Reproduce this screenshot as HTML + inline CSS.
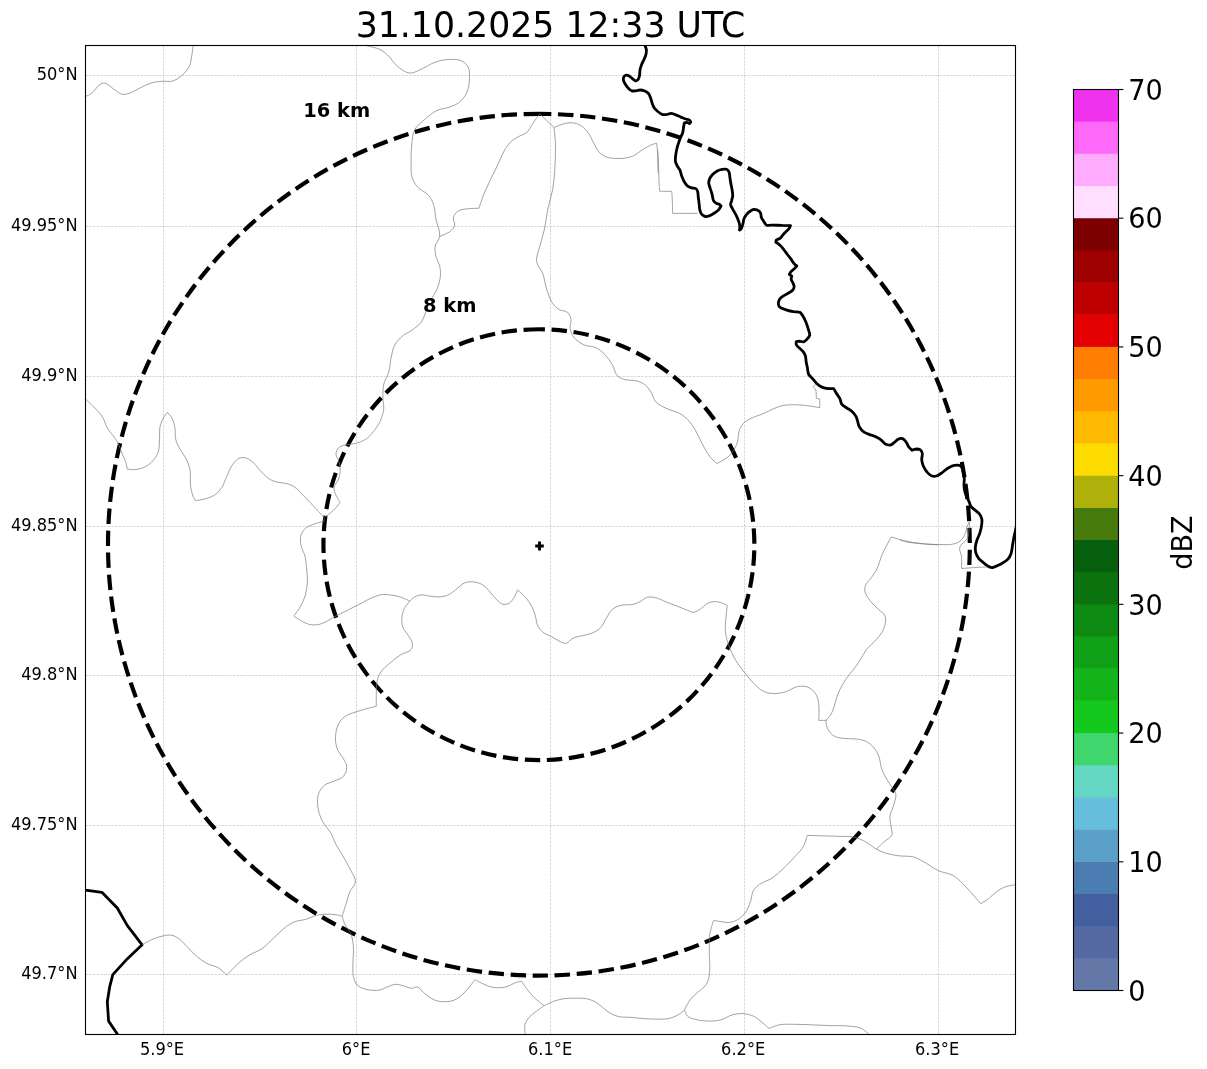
<!DOCTYPE html>
<html lang="en"><head><meta charset="utf-8"><title>31.10.2025 12:33 UTC</title>
<style>
html,body{margin:0;padding:0;background:#fff;}
body{width:1207px;height:1069px;overflow:hidden;}
svg{display:block;}
text{font-family:"DejaVu Sans","Liberation Sans",sans-serif;fill:#000;}
.tk{font-size:17.1px;}
.cb{font-size:27.78px;}
.thin{fill:none;stroke:#7a7a7a;stroke-width:0.7;stroke-linejoin:round;}
.thick{fill:none;stroke:#000;stroke-width:2.8;stroke-linejoin:round;stroke-linecap:butt;}
.grid{stroke:#b0b0b0;stroke-width:0.7;stroke-dasharray:2.57 1.11;stroke-opacity:0.7;}
.ring{fill:none;stroke:#000;stroke-width:4.17;stroke-dasharray:15.4167 6.6667;}
</style></head><body>
<svg width="1207" height="1069" viewBox="0 0 1207 1069">
<rect x="0" y="0" width="1207" height="1069" fill="#fff"/>
<defs><clipPath id="ax"><rect x="85.5" y="45.5" width="930.0" height="989.0"/></clipPath></defs>

<g class="grid">
<line x1="163.5" y1="45.5" x2="163.5" y2="1034.5"/>
<line x1="356.5" y1="45.5" x2="356.5" y2="1034.5"/>
<line x1="550.5" y1="45.5" x2="550.5" y2="1034.5"/>
<line x1="744.5" y1="45.5" x2="744.5" y2="1034.5"/>
<line x1="938.5" y1="45.5" x2="938.5" y2="1034.5"/>
<line x1="85.5" y1="75.5" x2="1015.5" y2="75.5"/>
<line x1="85.5" y1="226.5" x2="1015.5" y2="226.5"/>
<line x1="85.5" y1="376.5" x2="1015.5" y2="376.5"/>
<line x1="85.5" y1="526.5" x2="1015.5" y2="526.5"/>
<line x1="85.5" y1="675.5" x2="1015.5" y2="675.5"/>
<line x1="85.5" y1="825.5" x2="1015.5" y2="825.5"/>
<line x1="85.5" y1="974.5" x2="1015.5" y2="974.5"/>
</g>
<g clip-path="url(#ax)">
<path class="ring" d="M538.9 113.80000000000007 A430.9 430.9 0 1 0 538.9 975.6 A430.9 430.9 0 1 0 538.9 113.80000000000007"/>
<path class="ring" d="M538.9 329.25000000000006 A215.45 215.45 0 1 0 538.9 760.1500000000001 A215.45 215.45 0 1 0 538.9 329.25000000000006"/>
<path class="thick" d="M644.5 43.7 C644.5 43.7 644.9 45.0 645.0 45.6 C645.4 46.7 646.1 48.2 646.3 49.3 C646.5 50.8 646.3 52.8 646.0 54.3 C645.7 55.9 644.8 57.8 644.1 59.3 C643.5 60.8 642.3 62.7 641.7 64.2 C641.0 65.9 640.4 68.1 640.0 69.8 C639.7 71.5 639.9 73.8 639.5 75.5 C639.2 76.8 638.9 78.8 637.9 79.8 C637.4 80.4 635.5 81.0 635.5 81.0 C635.5 81.0 633.3 79.3 632.3 78.6 C631.3 77.7 630.0 76.4 628.9 75.8 C628.1 75.4 627.0 74.9 626.1 75.1 C625.3 75.2 624.3 76.0 623.9 76.7 C623.4 77.5 623.3 78.9 623.4 79.8 C623.5 81.0 624.3 82.5 624.9 83.5 C625.7 84.9 626.9 86.7 628.0 87.9 C629.0 88.9 630.4 90.3 631.7 90.8 C633.0 91.2 634.8 90.9 636.1 90.8 C637.4 90.6 639.1 90.0 640.4 90.0 C641.8 90.0 643.5 90.5 644.8 91.0 C646.0 91.5 647.6 92.5 648.5 93.5 C649.6 94.7 650.2 96.9 650.8 98.5 C651.3 99.9 651.7 102.0 652.2 103.4 C652.7 104.8 653.3 106.6 654.1 107.8 C655.0 109.1 656.6 110.5 657.8 111.5 C659.1 112.5 660.7 113.9 662.2 114.4 C663.6 114.8 665.7 114.6 667.2 114.4 C668.3 114.2 669.7 113.4 670.9 113.4 C672.3 113.4 674.0 114.2 675.2 114.6 C677.0 115.3 679.1 116.4 680.9 117.1 C682.3 117.7 684.3 118.4 685.8 119.0 C686.9 119.4 688.6 119.5 689.5 120.2 C690.1 120.6 690.8 122.1 690.8 122.1 C690.8 122.1 689.5 123.6 689.5 123.6 C689.5 123.6 687.4 122.4 686.4 122.3 C685.8 122.3 684.3 123.1 684.3 123.1 C684.3 123.1 683.8 125.9 683.6 127.1 C683.3 128.7 683.2 131.0 682.7 132.7 C682.2 134.4 680.9 136.5 680.2 138.3 C679.4 140.5 678.4 143.5 677.7 145.7 C677.2 147.7 676.4 150.5 676.1 152.6 C675.7 155.3 675.0 159.1 675.5 161.8 C675.7 163.2 676.7 164.9 677.4 166.2 C678.0 167.4 679.3 168.7 679.9 169.9 C680.7 171.7 681.0 174.3 681.7 176.1 C682.4 177.8 683.3 180.1 684.2 181.7 C685.0 183.0 686.1 184.8 687.3 185.8 C688.4 186.7 690.3 187.5 691.7 187.9 C692.9 188.3 694.7 187.9 695.8 188.6 C696.5 189.0 697.2 190.2 697.5 191.0 C698.2 192.8 698.0 195.4 698.3 197.3 C698.5 199.1 698.9 201.6 699.1 203.5 C699.4 205.3 699.3 207.9 699.8 209.7 C700.1 211.1 700.7 213.0 701.6 214.1 C702.5 215.1 704.0 216.3 705.4 216.5 C706.7 216.8 708.5 216.1 709.7 215.7 C711.3 215.1 713.2 213.8 714.7 212.8 C716.1 211.9 717.9 210.7 719.0 209.4 C719.8 208.5 721.1 206.0 721.1 206.0 C721.1 206.0 720.2 204.8 719.6 204.5 C718.6 203.9 716.9 203.9 715.9 203.2 C715.0 202.6 713.9 201.4 713.4 200.4 C712.7 198.8 712.6 196.4 712.2 194.8 C711.7 192.9 710.9 190.4 710.3 188.6 C709.8 186.9 708.8 184.7 708.7 183.0 C708.7 181.6 709.2 179.8 709.7 178.6 C710.4 177.1 711.7 175.4 712.8 174.2 C714.0 173.1 715.7 171.7 717.2 170.9 C718.5 170.2 720.6 169.5 722.1 169.3 C723.4 169.1 725.3 168.8 726.5 169.3 C727.5 169.7 728.5 170.8 729.0 171.8 C729.7 173.3 729.6 175.7 729.9 177.4 C730.1 179.2 730.5 181.7 730.9 183.6 C731.2 185.5 731.8 187.9 732.1 189.8 C732.4 191.7 732.8 194.1 732.7 196.0 C732.6 197.6 731.8 199.5 731.5 201.0 C731.2 202.1 730.5 203.6 730.6 204.7 C730.8 206.2 732.0 207.8 732.7 209.1 C733.6 210.8 735.0 213.0 735.8 214.7 C736.6 216.3 737.7 218.5 738.3 220.3 C738.9 221.9 739.6 224.1 739.8 225.9 C739.9 227.2 739.5 230.2 739.5 230.2 C739.5 230.2 741.0 229.0 741.4 228.4 C742.2 227.0 742.6 224.9 743.0 223.4 C743.4 222.1 743.4 220.3 743.9 219.0 C744.4 217.6 745.5 215.9 746.4 214.7 C747.5 213.3 749.2 211.6 750.8 210.7 C751.8 210.1 753.3 209.4 754.5 209.4 C755.9 209.5 757.7 210.1 758.8 210.9 C759.6 211.5 760.3 212.6 760.7 213.4 C761.1 214.5 760.9 216.1 761.3 217.2 C761.8 218.6 763.0 220.3 763.8 221.5 C764.5 222.6 765.2 224.3 766.3 224.9 C768.1 225.8 771.1 225.1 773.1 225.1 C775.7 225.2 779.2 225.3 781.8 225.4 C784.5 225.4 790.5 225.6 790.5 225.6 C790.5 225.6 789.4 228.1 788.7 229.0 C787.4 230.7 785.1 232.4 783.7 234.0 C782.5 235.2 781.3 237.3 780.0 238.3 C779.0 239.1 777.0 239.2 776.2 240.2 C775.9 240.7 775.9 242.3 775.9 242.3 C775.9 242.3 778.9 244.1 780.0 245.2 C781.3 246.3 782.6 248.2 783.7 249.5 C784.9 251.0 786.3 253.0 787.4 254.5 C788.6 256.0 790.1 257.9 791.2 259.4 C792.1 260.7 793.2 262.6 794.3 263.8 C794.9 264.5 796.8 265.9 796.8 265.9 C796.8 265.9 795.5 267.5 794.9 268.2 C793.9 269.2 792.1 270.2 791.2 271.3 C790.5 272.1 789.3 274.4 789.3 274.4 C789.3 274.4 791.8 276.2 791.8 276.2 C791.8 276.2 791.0 278.4 791.2 279.4 C791.3 280.6 792.6 281.8 793.0 283.0 C793.5 284.1 794.2 285.6 794.1 286.8 C794.1 287.8 793.5 289.1 792.9 289.9 C791.9 291.2 789.9 292.2 788.6 293.0 C786.9 294.0 784.5 295.0 783.0 296.1 C781.8 296.9 780.3 298.0 779.6 299.2 C778.8 300.6 778.2 302.7 778.4 304.2 C778.5 305.2 779.1 306.6 779.9 307.3 C781.3 308.7 784.2 309.2 786.1 309.8 C788.3 310.5 791.3 311.3 793.5 311.7 C795.4 312.0 798.1 311.4 799.8 312.3 C801.0 313.0 802.1 314.8 802.9 316.0 C804.0 317.8 805.2 320.3 806.0 322.2 C806.9 324.4 807.8 327.4 808.5 329.7 C808.9 331.4 810.0 333.6 809.7 335.3 C809.4 336.9 807.7 338.5 806.6 339.6 C805.8 340.5 804.6 341.6 803.5 341.9 C802.2 342.2 800.5 341.2 799.1 341.1 C798.3 341.1 796.3 341.5 796.3 341.5 C796.3 341.5 795.9 343.8 796.3 344.6 C796.8 346.1 798.7 347.3 799.8 348.4 C800.8 349.5 802.6 350.8 803.5 352.1 C804.2 353.1 805.0 354.6 805.4 355.8 C805.9 357.6 805.9 360.2 806.2 362.0 C806.5 363.9 807.1 366.4 807.5 368.3 C807.8 370.1 807.8 372.8 808.7 374.5 C809.4 375.8 811.2 377.1 812.2 378.2 C813.5 379.7 815.1 381.8 816.5 383.2 C817.6 384.2 819.0 385.6 820.3 386.3 C821.6 387.1 823.5 387.8 825.0 388.1 C827.5 388.6 833.7 388.7 833.7 388.7 C833.7 388.7 835.4 391.8 836.2 393.1 C837.2 394.8 839.0 396.8 839.9 398.7 C840.7 400.2 840.7 402.8 841.8 404.2 C842.9 405.8 845.2 406.9 846.7 408.0 C848.4 409.2 850.9 410.3 852.3 411.7 C853.7 413.0 855.2 415.0 856.1 416.7 C856.9 418.3 857.4 420.6 857.9 422.3 C858.3 423.6 858.5 425.5 859.2 426.6 C860.3 428.6 862.3 430.9 864.1 432.2 C866.0 433.5 868.9 434.2 871.0 435.0 C872.9 435.7 875.4 436.5 877.2 437.5 C878.6 438.2 880.4 439.3 881.6 440.3 C882.8 441.3 883.9 443.3 885.3 444.1 C886.8 444.8 889.2 445.3 890.9 444.9 C892.2 444.6 893.5 443.0 894.6 442.2 C895.8 441.3 897.0 439.6 898.4 439.1 C899.6 438.6 901.5 438.3 902.7 438.7 C903.9 439.1 905.0 440.6 905.8 441.6 C907.0 443.1 907.8 445.6 908.9 447.2 C909.7 448.2 912.0 450.3 912.0 450.3 C912.0 450.3 915.0 449.1 916.4 449.0 C917.5 449.0 919.2 449.0 920.1 449.6 C921.1 450.3 921.9 451.7 922.2 452.8 C922.8 454.7 921.6 457.5 921.7 459.6 C921.9 461.5 922.5 464.0 923.2 465.8 C924.1 467.8 925.6 470.4 927.0 472.0 C928.1 473.4 929.7 475.1 931.3 475.8 C932.7 476.3 934.8 476.4 936.3 476.0 C938.0 475.6 939.8 474.2 941.3 473.3 C943.0 472.1 945.1 470.1 946.9 468.9 C948.5 467.9 950.6 466.4 952.5 465.8 C953.9 465.4 955.9 465.1 957.4 465.2 C958.6 465.3 960.3 465.6 961.2 466.4 C962.2 467.4 962.6 469.4 963.0 470.8 C963.7 473.0 964.1 476.0 964.3 478.3 C964.4 480.5 963.9 483.5 964.0 485.7 C964.1 487.6 964.4 490.1 964.9 491.9 C965.4 493.9 966.6 496.3 967.4 498.2 C968.2 500.0 969.5 502.4 970.0 504.4 C970.0 504.4 970.0 504.4 970.0 504.5 C970.2 505.2 970.6 506.0 971.1 506.6 C972.1 508.0 974.1 509.3 975.4 510.4 C976.7 511.5 978.7 512.8 979.7 514.2 C980.7 515.6 981.6 517.8 981.9 519.5 C982.2 521.8 981.7 524.8 981.3 527.1 C981.0 529.1 980.3 531.6 979.7 533.5 C979.0 535.5 977.7 538.0 977.0 540.0 C976.4 541.9 975.6 544.5 975.4 546.5 C975.2 548.4 975.4 551.1 975.9 552.9 C976.4 554.7 977.5 556.9 978.6 558.3 C979.9 560.0 982.3 561.8 984.0 563.2 C985.6 564.4 987.6 566.2 989.4 566.9 C990.3 567.3 991.6 567.6 992.6 567.5 C994.0 567.3 995.7 566.4 996.9 565.9 C998.6 565.1 1000.8 564.1 1002.3 563.2 C1004.0 562.2 1006.4 560.8 1007.7 559.4 C1009.0 558.0 1010.3 555.8 1010.9 554.0 C1011.9 551.6 1012.1 548.0 1012.5 545.4 C1013.1 542.5 1013.6 538.6 1014.2 535.7 C1014.6 533.7 1015.3 531.2 1015.8 529.2 C1016.1 527.6 1016.9 523.9 1016.9 523.9"/>
<path class="thick" d="M82.5 889.6 L85.5 890.1 L101.9 892.3 L117.3 908.0 L127.2 925.4 L142.1 944.8 L127.2 958.9 L112.8 974.6 L109.8 986.3 L107.3 1001.7 L108.6 1021.1 L117.3 1034.0 L119.8 1038.5"/>
<path class="thin" d="M85.2 96.5 C85.2 96.5 89.4 94.9 91.2 93.6 C92.7 92.5 93.8 91.0 95.1 89.6 C96.5 88.1 97.5 86.3 99.1 85.0 C100.3 84.1 101.6 83.2 103.1 83.0 C104.2 82.9 105.4 83.2 106.4 83.7 C108.1 84.4 109.5 85.9 111.0 87.0 C112.8 88.3 114.5 89.7 116.3 91.0 C117.8 92.0 119.2 93.3 121.0 94.0 C122.2 94.4 123.6 94.5 124.9 94.4 C126.8 94.3 128.5 93.6 130.2 93.0 C132.3 92.2 134.1 91.0 136.0 90.0 C141.3 87.5 146.5 84.4 152.1 82.8 C155.3 81.8 158.7 81.5 162.0 81.3 C165.5 81.0 169.1 82.0 172.5 81.0 C176.0 80.0 179.2 77.9 181.9 75.5 C184.9 72.9 187.6 69.7 189.4 66.1 C191.0 62.6 191.2 58.7 191.9 54.9 C192.4 51.8 193.1 45.5 193.1 45.5"/>
<path class="thin" d="M362.6 45.0 C362.6 45.0 374.6 46.9 380.0 49.5 C382.8 50.8 385.2 52.8 387.5 54.9 C391.2 58.3 393.5 63.0 397.4 66.1 C401.1 69.1 405.1 72.7 409.8 73.1 C414.2 73.4 418.2 70.3 422.3 68.6 C426.5 66.8 430.3 63.9 434.7 62.4 C439.5 60.7 444.5 59.5 449.6 59.4 C453.8 59.3 458.3 59.3 462.0 61.1 C464.7 62.4 467.0 64.7 468.2 67.3 C469.7 70.3 469.6 73.9 469.5 77.3 C469.4 82.3 469.0 87.6 467.0 92.2 C465.4 96.0 462.7 99.5 459.5 102.1 C456.7 104.5 453.1 105.8 449.6 107.1 C445.6 108.6 441.0 108.5 437.2 110.3 C432.5 112.6 428.6 116.2 424.7 119.5 C421.2 122.6 417.0 125.4 414.8 129.5 C412.4 134.0 412.4 139.4 411.8 144.4 C411.0 151.0 411.0 157.7 411.1 164.3 C411.1 168.4 410.7 172.7 411.8 176.7 C412.9 180.3 414.8 183.8 417.3 186.7 C420.4 190.3 425.4 191.8 428.5 195.4 C430.7 197.9 432.3 200.9 433.4 204.1 C435.1 208.8 435.0 214.0 435.9 219.0 C437.0 224.8 440.3 230.5 439.7 236.4 C439.3 240.0 435.8 242.7 435.2 246.3 C434.6 249.6 435.2 253.0 435.9 256.3 C436.7 259.7 438.9 262.7 439.7 266.2 C440.4 269.4 440.7 272.8 440.4 276.1 C440.0 280.4 438.8 284.6 437.2 288.6 C435.6 292.5 431.0 299.8 431.0 299.8"/>
<path class="thin" d="M427.7 305.0 C427.7 305.0 426.7 309.2 426.0 311.2 C424.6 315.1 423.4 319.1 421.0 322.4 C418.7 325.5 415.4 327.6 412.3 329.9 C409.2 332.2 405.3 333.5 402.4 336.1 C399.5 338.6 396.7 341.4 394.9 344.8 C392.8 348.6 392.2 353.0 391.2 357.2 C390.1 362.1 390.1 367.3 388.7 372.1 C387.5 376.4 384.7 380.2 383.7 384.5 C382.7 389.4 382.9 394.5 383.0 399.5 C383.0 402.8 384.1 406.1 383.7 409.4 C383.3 413.7 380.0 421.8 380.0 421.8"/>
<path class="thin" d="M439.7 236.4 C439.7 236.4 447.7 233.6 450.8 230.9 C452.5 229.4 454.1 227.4 454.6 225.2 C455.1 222.7 452.7 220.2 453.3 217.7 C454.0 215.0 456.0 212.6 458.3 211.0 C460.4 209.6 463.2 209.4 465.8 209.0 C470.1 208.3 478.9 208.3 478.9 208.3 C478.9 208.3 482.3 197.9 484.4 192.9 C488.1 184.0 492.5 175.4 496.8 166.8 C500.8 158.8 503.4 149.9 509.3 143.2 C511.6 140.5 514.9 138.8 518.0 136.9 C520.7 135.2 524.2 134.6 526.7 132.5 C529.4 130.0 530.7 126.3 532.9 123.3 C535.1 120.1 539.8 113.8 539.8 113.8 C539.8 113.8 554.0 127.5 554.0 127.5 C554.0 127.5 563.7 123.1 568.9 122.8 C572.3 122.5 575.8 123.1 578.9 124.5 C582.3 126.1 585.1 129.0 587.6 132.0 C590.3 135.3 591.6 139.5 593.8 143.2 C595.6 146.3 596.8 149.9 599.4 152.5 C601.3 154.5 603.7 155.9 606.2 156.9 C609.0 158.0 612.0 158.2 614.9 158.4 C618.2 158.6 621.6 158.7 624.9 158.2 C627.9 157.7 630.8 156.9 633.6 155.7 C636.3 154.4 638.5 152.3 641.0 150.7 C643.9 148.9 646.7 146.9 649.8 145.5 C651.9 144.5 656.6 143.2 656.6 143.2 C656.6 143.2 657.3 149.0 657.5 151.9 C657.7 156.1 657.7 160.2 657.8 164.4 C657.9 167.2 658.2 173.0 658.2 173.0"/>
<path class="thin" d="M657.7 150.0 C657.7 150.0 658.3 158.3 658.5 162.4 C658.7 168.7 658.7 174.9 659.0 181.1 C659.1 184.5 659.7 191.3 659.7 191.3 C659.7 191.3 671.8 191.3 671.8 191.3 C671.8 191.3 672.2 198.6 672.4 202.2 C672.5 206.0 672.6 213.4 672.6 213.4 C672.6 213.4 697.9 213.4 697.9 213.4"/>
<path class="thin" d="M554.0 127.5 C554.0 127.5 555.3 138.7 555.5 144.4 C555.7 152.7 555.3 161.0 554.8 169.3 C554.3 175.9 553.9 182.6 552.8 189.1 C551.6 195.9 549.2 202.3 547.8 209.0 C546.4 215.6 546.0 222.4 544.5 228.9 C543.1 235.6 540.7 242.1 539.1 248.8 C538.1 252.9 536.0 257.0 536.6 261.2 C537.2 265.8 541.2 269.3 542.8 273.7 C544.6 278.5 544.9 283.7 546.5 288.6 C548.2 293.7 549.7 299.2 552.8 303.6 C554.4 306.0 556.5 308.0 559.0 309.5 C561.6 311.1 565.3 310.5 567.7 312.5 C569.4 314.0 570.4 316.4 570.9 318.7 C571.6 321.9 569.6 325.3 570.2 328.6 C570.7 331.7 571.9 334.8 573.9 337.3 C576.4 340.6 580.1 343.0 583.8 344.8 C587.7 346.6 592.4 345.9 596.3 347.8 C599.6 349.4 602.4 352.0 605.0 354.7 C607.8 357.7 610.3 361.1 612.4 364.7 C614.5 368.2 614.6 372.9 617.4 375.8 C619.3 377.8 622.2 378.8 624.8 379.6 C628.4 380.6 632.4 379.9 636.0 380.8 C639.1 381.6 642.2 382.7 644.7 384.5 C647.3 386.5 649.2 389.3 650.9 392.0 C653.0 395.1 653.4 399.2 655.9 401.9 C658.5 404.8 662.4 406.4 665.9 408.2 C670.4 410.4 675.6 411.2 680.0 413.6 C682.7 415.2 685.3 417.1 687.5 419.3 C690.4 422.3 692.7 425.8 694.9 429.3 C697.8 434.0 699.7 439.3 702.4 444.2 C704.7 448.4 706.9 452.8 709.8 456.6 C711.8 459.2 716.8 463.6 716.8 463.6 C716.8 463.6 726.1 459.0 729.7 455.4 C733.1 451.9 735.5 447.5 737.2 443.0 C738.8 438.6 737.8 433.5 739.7 429.3 C740.9 426.5 742.7 423.8 745.1 421.8 C750.6 417.4 758.0 416.0 764.5 413.1 C770.3 410.6 775.8 407.1 781.9 405.7 C787.6 404.4 793.5 404.7 799.3 404.9 C806.2 405.2 819.7 407.7 819.7 407.7 C819.7 407.7 819.7 399.0 819.7 399.0 C819.7 399.0 816.2 398.2 816.2 398.2 C816.2 398.2 816.7 392.1 815.5 389.5 C815.0 388.5 813.0 387.0 813.0 387.0 C813.0 387.0 816.2 383.6 816.2 383.6"/>
<path class="thin" d="M85.5 399.0 C85.5 399.0 91.0 404.1 93.7 406.9 C96.7 410.1 100.0 413.1 102.4 416.9 C104.6 420.3 105.3 424.5 107.3 428.0 C110.2 432.9 114.6 436.8 117.3 441.7 C119.4 445.6 120.6 450.0 122.3 454.1 C123.5 457.1 125.1 459.8 126.0 462.8 C126.6 464.9 127.2 469.1 127.2 469.1 C127.2 469.1 132.2 469.8 134.7 469.6 C138.1 469.2 141.6 468.6 144.6 467.1 C147.9 465.5 150.9 463.1 153.3 460.4 C155.5 457.8 157.3 454.8 158.3 451.7 C159.6 447.7 159.2 443.4 159.5 439.2 C159.8 435.1 159.2 430.9 160.0 426.8 C160.6 423.8 161.8 420.8 163.3 418.1 C164.4 416.0 167.5 412.4 167.5 412.4 C167.5 412.4 170.9 416.0 172.0 418.1 C173.6 421.2 174.3 424.6 174.9 428.0 C175.6 431.7 174.8 435.6 175.7 439.2 C176.4 442.3 178.0 445.1 179.4 447.9 C181.6 452.2 184.9 456.0 186.9 460.4 C188.3 463.5 189.5 466.9 190.1 470.3 C191.0 475.6 189.9 481.1 190.6 486.5 C191.1 489.8 191.8 493.2 193.1 496.4 C193.7 497.9 195.6 500.6 195.6 500.6 C195.6 500.6 203.2 499.6 206.8 498.4 C209.8 497.4 212.9 496.3 215.5 494.4 C217.9 492.6 220.0 490.2 221.7 487.7 C223.9 484.3 224.9 480.2 226.7 476.5 C228.6 472.3 230.1 467.8 232.9 464.1 C234.6 461.8 236.5 459.5 239.1 458.4 C241.0 457.5 243.3 457.4 245.3 457.9 C248.1 458.5 250.5 460.3 252.8 462.1 C256.2 464.9 258.3 468.9 261.5 472.0 C264.2 474.7 266.9 477.6 270.2 479.5 C272.4 480.8 275.0 481.6 277.6 482.2 C280.5 482.9 283.5 482.7 286.3 483.5 C288.9 484.2 291.5 485.0 293.8 486.5 C297.6 488.9 300.5 492.7 303.7 495.9 C308.0 500.1 312.1 504.5 316.1 508.8 C318.8 511.7 324.1 517.5 324.1 517.5 C324.1 517.5 329.8 513.6 332.3 511.3 C335.2 508.7 340.2 502.6 340.2 502.6 C340.2 502.6 337.1 497.8 336.0 495.2 C335.1 492.8 333.8 490.3 334.0 487.7 C334.4 484.5 337.5 482.1 338.5 479.0 C339.6 475.8 340.3 472.4 340.2 469.1 C340.2 466.1 339.4 463.2 338.5 460.4 C337.9 458.2 336.0 456.4 336.0 454.1 C336.0 451.9 337.0 449.6 338.5 447.9 C339.8 446.6 341.7 446.0 343.5 445.4 C345.9 444.7 348.5 444.6 350.9 444.2 C352.8 443.9 354.6 443.7 356.4 443.2 C359.7 442.2 363.0 441.1 365.9 439.2 C368.8 437.3 371.1 434.5 373.3 431.8 C375.9 428.7 380.0 421.8 380.0 421.8"/>
<path class="thin" d="M324.1 518.3 C324.1 518.3 324.1 521.3 324.1 521.3 C324.1 521.3 317.0 522.9 313.7 524.2 C310.6 525.4 307.3 526.5 305.0 528.7 C302.9 530.7 301.4 533.4 300.7 536.2 C300.0 539.4 300.6 542.9 301.2 546.1 C301.9 549.6 304.1 552.6 305.0 556.1 C306.1 560.6 306.2 565.3 306.7 570.0 C307.0 573.3 307.6 576.6 307.4 579.9 C307.2 585.4 306.5 590.9 305.0 596.1 C303.8 600.0 302.0 603.7 300.0 607.3 C298.2 610.4 293.8 616.0 293.8 616.0 C293.8 616.0 303.2 622.8 308.7 624.2 C312.3 625.1 316.2 625.1 319.9 624.2 C325.7 622.8 330.6 618.7 336.0 616.0 C342.6 612.7 349.2 609.3 355.9 606.0 C363.9 602.2 371.4 596.8 380.0 594.9 C383.2 594.1 386.6 594.5 389.9 594.9 C393.3 595.2 396.7 595.9 399.9 596.9 C403.3 597.9 409.8 601.1 409.8 601.1 C409.8 601.1 412.9 597.9 414.8 596.9 C416.7 595.8 418.8 595.0 421.0 594.9 C423.9 594.6 426.8 595.8 429.7 596.1 C433.0 596.5 436.3 597.1 439.7 596.9 C442.6 596.6 445.6 596.1 448.4 594.9 C451.6 593.4 454.2 590.8 457.1 588.6 C459.6 586.8 461.6 584.1 464.5 582.9 C467.2 581.8 470.3 581.7 473.2 581.9 C476.2 582.2 479.3 583.0 481.9 584.4 C484.8 586.0 487.0 588.7 489.4 591.1 C492.0 593.9 494.0 597.2 496.8 599.8 C498.7 601.6 500.5 603.8 503.0 604.3 C505.1 604.7 507.4 604.1 509.3 603.1 C511.4 601.8 512.9 599.5 514.2 597.3 C515.7 595.0 517.5 589.9 517.5 589.9 C517.5 589.9 523.0 594.6 525.4 597.3 C527.8 600.0 530.0 602.9 531.6 606.0 C533.3 609.2 534.3 612.6 535.4 616.0 C536.4 619.3 536.3 622.9 537.8 625.9 C539.0 628.3 540.8 630.5 542.8 632.1 C545.3 634.2 548.6 635.1 551.5 636.6 C554.4 638.2 557.1 640.3 560.2 641.6 C562.0 642.4 564.0 643.7 565.9 643.3 C568.7 642.9 570.1 639.6 572.6 638.4 C575.3 637.0 578.4 636.6 581.3 635.9 C584.6 635.0 588.1 634.7 591.3 633.4 C594.4 632.1 597.6 630.7 600.0 628.4 C602.8 625.7 604.1 621.7 606.2 618.5 C608.2 615.4 609.6 611.7 612.4 609.3 C614.8 607.2 618.0 606.1 621.1 605.3 C625.1 604.3 629.5 605.3 633.5 604.3 C636.2 603.6 638.6 602.3 641.0 601.1 C643.1 600.0 644.9 597.9 647.2 597.3 C650.0 596.6 653.1 597.2 655.9 597.8 C659.4 598.6 662.5 600.5 665.9 601.8 C670.6 603.7 675.3 605.4 680.0 607.3 C682.5 608.3 684.9 609.4 687.5 610.3 C689.5 611.0 691.5 612.4 693.7 612.3 C696.4 612.0 698.8 610.0 701.1 608.5 C703.4 607.1 705.0 604.8 707.3 603.6 C709.6 602.4 712.2 601.7 714.8 601.6 C717.3 601.5 719.8 602.3 722.3 603.1 C724.0 603.6 727.2 605.3 727.2 605.3 C727.2 605.3 726.3 613.2 726.0 617.2 C725.6 622.2 725.0 627.2 725.5 632.1 C725.9 636.4 727.1 640.5 728.5 644.6 C730.4 650.2 732.9 655.6 735.9 660.7 C738.6 665.2 741.9 669.1 745.1 673.2 C748.2 677.0 751.0 681.0 754.6 684.3 C757.6 687.2 760.7 690.2 764.5 691.8 C768.0 693.3 771.9 693.6 775.7 693.5 C779.5 693.5 783.3 692.5 786.9 691.3 C790.3 690.2 793.3 687.6 796.8 686.8 C800.1 686.1 803.6 685.9 806.8 686.8 C809.6 687.7 812.3 689.6 814.2 691.8 C816.1 693.9 817.3 696.6 818.0 699.3 C819.7 706.1 818.7 720.4 818.7 720.4 C818.7 720.4 826.2 720.4 826.2 720.4"/>
<path class="thin" d="M409.8 601.1 C409.8 601.1 405.7 605.8 404.4 608.5 C403.0 611.2 402.1 614.2 401.9 617.2 C401.6 620.5 401.8 624.0 402.9 627.2 C404.0 630.4 406.9 632.9 408.6 635.9 C410.0 638.3 411.9 640.6 412.3 643.3 C412.6 645.4 412.4 647.9 411.1 649.5 C408.8 652.5 404.3 652.6 401.1 654.5 C397.6 656.7 394.3 659.3 391.2 662.0 C387.2 665.4 382.8 668.7 380.0 673.2 C378.4 675.8 377.6 678.9 377.0 681.9 C376.2 685.9 376.4 690.1 376.3 694.3 C376.2 698.3 376.3 706.2 376.3 706.2 C376.3 706.2 365.9 708.8 360.9 710.4 C355.4 712.2 349.4 713.3 344.7 716.7 C342.1 718.5 340.0 721.2 338.5 724.1 C336.6 727.9 335.7 732.3 335.5 736.5 C335.3 740.7 335.8 745.0 337.3 749.0 C338.6 752.6 341.7 755.5 343.5 758.9 C344.7 761.3 346.6 763.7 346.7 766.4 C346.9 769.9 345.8 773.7 343.5 776.3 C341.1 779.1 336.9 779.7 333.5 781.3 C330.7 782.6 327.3 783.0 324.8 785.0 C322.1 787.2 319.8 790.3 318.6 793.7 C317.0 798.4 317.4 803.7 318.1 808.6 C318.8 813.0 320.4 817.2 322.4 821.1 C324.7 825.6 328.6 829.2 331.1 833.6 C333.0 837.1 334.2 841.0 336.0 844.6 C338.3 848.9 341.1 852.8 343.5 857.0 C346.1 861.5 348.7 866.0 350.9 870.7 C352.7 874.3 355.7 877.9 355.4 881.9 C355.2 885.7 351.2 888.3 349.7 891.8 C348.0 895.8 347.2 900.1 346.0 904.3 C344.7 908.2 342.2 916.2 342.2 916.2"/>
<path class="thin" d="M987.2 566.9 C987.2 566.9 979.3 567.2 975.4 567.5 C970.8 567.8 961.6 568.5 961.6 568.5 C961.6 568.5 961.8 560.3 961.4 556.2 C961.1 553.1 958.9 550.0 959.8 547.0 C960.8 543.5 965.6 542.2 967.3 538.9 C968.6 536.3 968.6 533.2 968.9 530.3 C969.3 527.5 969.5 521.7 969.5 521.7 C969.5 521.7 969.1 522.4 968.9 522.8 C968.2 524.2 967.3 525.6 966.8 527.1 C966.2 528.8 966.3 530.7 965.7 532.5 C965.0 534.4 964.2 536.2 963.0 537.9 C961.7 539.6 960.1 541.3 958.2 542.4 C956.2 543.5 953.9 544.0 951.7 544.3 C947.4 545.0 943.1 544.6 938.8 544.5 C934.8 544.5 930.9 544.3 926.9 544.1 C923.3 543.9 919.7 543.6 916.2 543.2 C912.9 542.9 909.6 542.6 906.5 541.9 C904.3 541.5 900.0 540.0 900.0 540.0"/>
<path class="thin" d="M938.5 544.9 C938.5 544.9 926.9 544.3 921.1 543.6 C915.3 542.9 909.4 542.0 903.7 540.6 C899.5 539.7 891.3 536.9 891.3 536.9 C891.3 536.9 885.2 547.9 882.6 553.6 C880.2 558.9 879.0 564.8 876.4 570.0 C875.0 572.7 873.1 575.0 871.4 577.5 C869.4 580.4 866.3 582.8 865.2 586.2 C864.6 588.1 864.6 590.4 865.2 592.4 C866.3 596.1 869.0 599.3 871.4 602.3 C873.6 605.1 876.4 607.3 878.9 609.8 C880.9 611.8 884.1 613.2 885.1 616.0 C886.5 619.9 885.2 624.5 883.8 628.4 C882.3 632.6 879.2 636.1 876.4 639.6 C873.4 643.2 869.3 645.8 866.4 649.5 C863.5 653.3 861.7 658.0 859.0 662.0 C856.7 665.4 854.0 668.6 851.5 671.9 C849.0 675.2 846.2 678.3 844.1 681.9 C841.6 685.8 839.5 690.0 837.8 694.3 C836.2 698.3 835.6 702.6 834.1 706.7 C833.0 709.7 832.0 712.7 830.4 715.4 C829.2 717.3 826.7 718.3 826.2 720.4 C825.4 723.3 826.6 726.4 827.9 729.1 C829.3 731.9 831.4 734.4 834.1 736.0 C837.0 737.8 840.7 738.0 844.1 738.5 C848.2 739.1 852.4 738.4 856.5 739.0 C859.9 739.5 863.4 740.0 866.4 741.5 C869.3 743.0 871.8 745.2 873.9 747.7 C876.0 750.3 877.7 753.3 878.9 756.4 C880.2 760.0 880.2 764.0 881.3 767.6 C882.3 770.6 883.6 773.5 885.1 776.3 C886.9 779.7 889.2 782.9 891.3 786.2 C892.8 788.7 895.2 790.8 895.8 793.6 C896.4 797.4 894.7 801.2 893.8 804.8 C892.8 808.6 890.5 812.1 890.0 816.0 C889.6 820.1 890.8 824.3 891.3 828.4 C891.5 830.5 892.8 832.7 892.0 834.7 C890.7 838.1 886.5 839.6 883.8 842.1 C881.3 844.4 876.4 849.1 876.4 849.1"/>
<path class="thin" d="M142.1 944.8 C142.1 944.8 148.6 941.0 152.1 939.5 C155.7 938.0 159.4 936.6 163.3 935.8 C166.1 935.3 169.1 934.7 172.0 935.3 C174.7 935.9 177.2 937.4 179.4 939.1 C182.3 941.1 184.4 944.0 186.9 946.5 C190.2 949.8 193.2 953.4 196.8 956.5 C199.9 959.1 203.2 961.5 206.8 963.4 C210.3 965.3 214.5 965.6 218.0 967.6 C221.2 969.6 226.7 975.1 226.7 975.1 C226.7 975.1 234.7 966.5 239.1 962.7 C242.2 960.0 245.5 957.4 249.0 955.2 C253.0 952.8 257.6 951.6 261.5 949.0 C266.1 945.9 269.7 941.5 273.9 937.8 C278.0 934.1 281.8 929.9 286.3 926.6 C288.6 924.9 291.1 923.2 293.8 922.1 C297.7 920.5 302.1 920.4 306.2 919.2 C309.6 918.1 312.7 916.3 316.1 915.4 C319.4 914.6 322.7 914.3 326.1 914.2 C329.4 914.1 332.7 914.2 336.0 914.7 C338.1 915.0 342.2 916.2 342.2 916.2 C342.2 916.2 343.6 921.6 344.7 924.1 C346.4 927.7 349.5 930.5 350.9 934.1 C352.5 938.0 353.1 942.3 353.4 946.5 C353.9 952.3 352.9 958.1 352.9 963.9 C353.0 968.1 352.5 972.3 353.4 976.3 C354.1 979.4 355.0 982.8 357.2 985.0 C359.4 987.4 362.7 988.5 365.9 989.3 C370.4 990.4 375.4 990.8 380.0 990.0 C382.7 989.5 384.9 987.7 387.5 986.8 C390.3 985.8 393.1 984.4 396.2 984.3 C399.1 984.2 402.0 985.5 404.9 986.3 C407.0 986.9 408.9 988.1 411.1 988.3 C413.2 988.4 415.2 986.5 417.3 987.0 C420.0 987.7 421.4 990.7 423.5 992.5 C425.9 994.5 428.2 996.7 431.0 998.2 C433.3 999.5 435.8 1000.6 438.4 1001.2 C441.2 1001.8 444.2 1001.9 447.1 1001.7 C449.7 1001.5 452.2 1001.0 454.6 1000.0 C457.3 998.8 459.8 996.9 462.0 995.0 C464.8 992.6 467.1 989.6 469.5 986.8 C471.4 984.5 474.9 979.6 474.9 979.6 C474.9 979.6 479.5 982.2 481.9 983.3 C484.7 984.6 487.6 986.0 490.6 986.8 C493.4 987.5 496.4 987.9 499.3 987.8 C502.3 987.7 505.2 987.2 508.0 986.3 C510.7 985.4 512.8 983.5 515.5 982.6 C517.5 981.9 521.7 981.3 521.7 981.3 C521.7 981.3 524.9 986.4 526.7 988.8 C529.0 991.8 531.4 994.8 534.1 997.5 C537.2 1000.5 544.1 1005.7 544.1 1005.7 C544.1 1005.7 550.6 1002.4 554.0 1001.2 C557.2 1000.1 560.6 999.2 563.9 998.7 C568.0 998.1 572.2 998.2 576.4 998.2 C579.7 998.2 583.1 998.1 586.3 998.7 C589.3 999.3 592.3 1000.3 595.0 1001.7 C597.8 1003.2 600.0 1005.5 602.5 1007.4 C605.0 1009.3 607.2 1011.6 609.9 1013.1 C612.6 1014.7 615.6 1015.9 618.6 1016.6 C622.7 1017.5 626.9 1017.0 631.1 1017.4 C635.2 1017.7 639.3 1018.3 643.5 1018.6 C647.6 1018.9 651.8 1019.1 655.9 1019.1 C660.1 1019.1 664.3 1019.3 668.3 1018.6 C670.9 1018.1 673.4 1017.2 675.8 1016.1 C677.3 1015.4 678.7 1014.6 680.0 1013.6 C681.6 1012.5 684.5 1009.9 684.5 1009.9"/>
<path class="thin" d="M544.1 1005.7 C544.1 1005.7 539.0 1009.2 536.6 1011.1 C534.0 1013.1 531.2 1014.9 529.1 1017.4 C527.3 1019.6 525.6 1022.0 524.9 1024.8 C524.2 1028.0 525.4 1034.8 525.4 1034.8"/>
<path class="thin" d="M684.5 1009.9 C684.5 1009.9 687.7 1003.0 689.9 1000.0 C692.1 997.1 694.8 994.9 697.4 992.5 C699.8 990.3 702.9 988.8 704.9 986.3 C706.6 984.1 707.9 981.5 708.6 978.8 C711.0 969.2 709.0 958.9 709.3 949.0 C709.5 944.0 709.1 939.0 709.8 934.1 C710.5 929.4 713.6 920.4 713.6 920.4 C713.6 920.4 718.5 921.3 721.0 921.7 C723.9 922.0 726.8 922.8 729.7 922.4 C732.8 922.0 735.8 920.8 738.4 919.2 C741.4 917.3 743.9 914.6 745.9 911.7 C748.2 908.3 749.5 904.4 750.8 900.5 C752.0 897.3 751.6 893.6 753.3 890.6 C754.8 888.0 757.2 886.1 759.5 884.4 C763.3 881.7 768.1 880.7 772.0 878.2 C776.5 875.1 780.4 871.2 784.4 867.5 C788.3 863.8 792.0 859.8 795.6 855.8 C798.2 853.0 801.1 850.4 803.0 847.1 C805.1 843.5 807.3 835.4 807.3 835.4 C807.3 835.4 818.5 835.7 824.2 835.9 C830.0 836.1 835.8 836.1 841.6 836.4 C845.7 836.6 849.9 836.3 854.0 837.1 C857.5 837.9 860.8 839.3 863.9 840.9 C868.4 843.1 872.0 846.7 876.4 849.1 C879.5 850.8 882.9 852.2 886.3 853.3 C890.3 854.5 894.6 855.2 898.7 855.8 C903.7 856.5 908.9 855.7 913.7 857.0 C918.1 858.3 922.0 861.0 926.1 863.2 C930.3 865.6 934.1 868.7 938.5 870.7 C943.3 872.9 948.9 873.0 953.4 875.7 C958.2 878.5 961.9 882.9 965.9 886.9 C971.1 892.2 980.7 903.8 980.7 903.8 C980.7 903.8 985.9 900.7 988.3 898.9 C991.4 896.6 993.8 893.6 996.9 891.4 C999.3 889.7 1001.8 888.2 1004.5 887.1 C1006.5 886.3 1008.7 885.8 1010.9 885.5 C1012.9 885.1 1016.9 884.9 1016.9 884.9"/>
<path class="thin" d="M684.5 1009.9 C684.5 1009.9 685.8 1014.6 687.5 1016.1 C690.1 1018.5 694.0 1019.0 697.4 1019.8 C701.5 1020.8 705.7 1021.1 709.8 1021.1 C713.6 1021.1 717.4 1020.8 721.0 1019.8 C724.9 1018.8 728.3 1015.9 732.2 1014.9 C735.8 1013.9 739.6 1013.4 743.4 1013.6 C746.8 1013.9 750.2 1014.7 753.3 1016.1 C756.6 1017.6 759.2 1020.1 762.0 1022.3 C764.5 1024.3 769.0 1028.5 769.0 1028.5 C769.0 1028.5 775.8 1025.5 779.4 1024.8 C784.3 1023.9 789.4 1024.3 794.3 1024.3 C800.1 1024.3 805.9 1024.6 811.7 1024.8 C817.5 1025.0 823.3 1025.4 829.1 1025.6 C835.8 1025.8 842.4 1025.3 849.0 1026.1 C853.2 1026.5 857.6 1026.8 861.5 1028.5 C864.5 1029.9 869.4 1034.8 869.4 1034.8"/>
<path d="M535.2 546 H543.8 M539.5 541.4 V550.6" stroke="#000" stroke-width="2.9" stroke-linecap="butt" fill="none"/>
</g>
<rect x="85.5" y="45.5" width="930.0" height="989.0" fill="none" stroke="#000" stroke-width="1.1"/>
<text x="550.5" y="37.3" font-size="34.72" text-anchor="middle">31.10.2025 12:33 UTC</text>
<text x="303.3" y="117" font-size="19.44" font-weight="bold">16 km</text>
<text x="423" y="312" font-size="19.44" font-weight="bold">8 km</text>
<text class="tk" transform="translate(77.6 79.7) scale(0.95 1)" text-anchor="end">50°N</text>
<text class="tk" transform="translate(77.6 230.7) scale(0.95 1)" text-anchor="end">49.95°N</text>
<text class="tk" transform="translate(77.6 380.7) scale(0.95 1)" text-anchor="end">49.9°N</text>
<text class="tk" transform="translate(77.6 530.7) scale(0.95 1)" text-anchor="end">49.85°N</text>
<text class="tk" transform="translate(77.6 679.7) scale(0.95 1)" text-anchor="end">49.8°N</text>
<text class="tk" transform="translate(77.6 829.7) scale(0.95 1)" text-anchor="end">49.75°N</text>
<text class="tk" transform="translate(77.6 978.7) scale(0.95 1)" text-anchor="end">49.7°N</text>
<text class="tk" transform="translate(162.0 1054.8) scale(0.95 1)" text-anchor="middle">5.9°E</text>
<text class="tk" transform="translate(356.1 1054.8) scale(0.95 1)" text-anchor="middle">6°E</text>
<text class="tk" transform="translate(550.1 1054.8) scale(0.95 1)" text-anchor="middle">6.1°E</text>
<text class="tk" transform="translate(743.2 1054.8) scale(0.95 1)" text-anchor="middle">6.2°E</text>
<text class="tk" transform="translate(937.1 1054.8) scale(0.95 1)" text-anchor="middle">6.3°E</text>
<rect x="1073.5" y="957.82" width="45.0" height="32.68" fill="#6478A8"/>
<rect x="1073.5" y="925.64" width="45.0" height="32.68" fill="#5469A2"/>
<rect x="1073.5" y="893.46" width="45.0" height="32.68" fill="#445FA0"/>
<rect x="1073.5" y="861.29" width="45.0" height="32.68" fill="#4C7DB2"/>
<rect x="1073.5" y="829.11" width="45.0" height="32.68" fill="#5AA0C8"/>
<rect x="1073.5" y="796.93" width="45.0" height="32.68" fill="#64BEDC"/>
<rect x="1073.5" y="764.75" width="45.0" height="32.68" fill="#64D7C3"/>
<rect x="1073.5" y="732.57" width="45.0" height="32.68" fill="#40D66E"/>
<rect x="1073.5" y="700.39" width="45.0" height="32.68" fill="#14C81E"/>
<rect x="1073.5" y="668.21" width="45.0" height="32.68" fill="#12B41A"/>
<rect x="1073.5" y="636.04" width="45.0" height="32.68" fill="#10A016"/>
<rect x="1073.5" y="603.86" width="45.0" height="32.68" fill="#0D8A12"/>
<rect x="1073.5" y="571.68" width="45.0" height="32.68" fill="#0A730E"/>
<rect x="1073.5" y="539.50" width="45.0" height="32.68" fill="#065F0C"/>
<rect x="1073.5" y="507.32" width="45.0" height="32.68" fill="#467A0A"/>
<rect x="1073.5" y="475.14" width="45.0" height="32.68" fill="#AFB00A"/>
<rect x="1073.5" y="442.96" width="45.0" height="32.68" fill="#FFDC00"/>
<rect x="1073.5" y="410.79" width="45.0" height="32.68" fill="#FFB900"/>
<rect x="1073.5" y="378.61" width="45.0" height="32.68" fill="#FF9B00"/>
<rect x="1073.5" y="346.43" width="45.0" height="32.68" fill="#FF7D00"/>
<rect x="1073.5" y="314.25" width="45.0" height="32.68" fill="#E20000"/>
<rect x="1073.5" y="282.07" width="45.0" height="32.68" fill="#BE0000"/>
<rect x="1073.5" y="249.89" width="45.0" height="32.68" fill="#9E0000"/>
<rect x="1073.5" y="217.71" width="45.0" height="32.68" fill="#7D0000"/>
<rect x="1073.5" y="185.54" width="45.0" height="32.68" fill="#FFDEFF"/>
<rect x="1073.5" y="153.36" width="45.0" height="32.68" fill="#FFACFF"/>
<rect x="1073.5" y="121.18" width="45.0" height="32.68" fill="#FF69FA"/>
<rect x="1073.5" y="89.00" width="45.0" height="32.68" fill="#EE32EE"/>
<rect x="1073.5" y="89.5" width="45.0" height="901.0" fill="none" stroke="#000" stroke-width="1.1"/>
<line x1="1118.5" y1="990.50" x2="1123.4" y2="990.50" stroke="#000" stroke-width="1.1"/>
<text class="cb" transform="translate(1128.2 1000.70) scale(0.975 1)">0</text>
<line x1="1118.5" y1="861.79" x2="1123.4" y2="861.79" stroke="#000" stroke-width="1.1"/>
<text class="cb" transform="translate(1128.2 871.99) scale(0.975 1)">10</text>
<line x1="1118.5" y1="733.07" x2="1123.4" y2="733.07" stroke="#000" stroke-width="1.1"/>
<text class="cb" transform="translate(1128.2 743.27) scale(0.975 1)">20</text>
<line x1="1118.5" y1="604.36" x2="1123.4" y2="604.36" stroke="#000" stroke-width="1.1"/>
<text class="cb" transform="translate(1128.2 614.56) scale(0.975 1)">30</text>
<line x1="1118.5" y1="475.64" x2="1123.4" y2="475.64" stroke="#000" stroke-width="1.1"/>
<text class="cb" transform="translate(1128.2 485.84) scale(0.975 1)">40</text>
<line x1="1118.5" y1="346.93" x2="1123.4" y2="346.93" stroke="#000" stroke-width="1.1"/>
<text class="cb" transform="translate(1128.2 357.13) scale(0.975 1)">50</text>
<line x1="1118.5" y1="218.21" x2="1123.4" y2="218.21" stroke="#000" stroke-width="1.1"/>
<text class="cb" transform="translate(1128.2 228.41) scale(0.975 1)">60</text>
<line x1="1118.5" y1="89.50" x2="1123.4" y2="89.50" stroke="#000" stroke-width="1.1"/>
<text class="cb" transform="translate(1128.2 99.70) scale(0.975 1)">70</text>
<text class="cb" transform="translate(1191.5 542.6) rotate(-90) scale(0.975 1)" text-anchor="middle">dBZ</text>
</svg></body></html>
